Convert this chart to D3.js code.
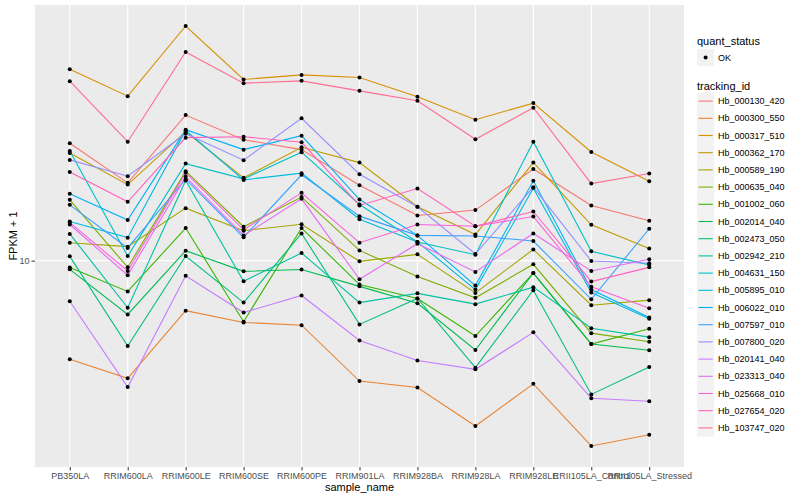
<!DOCTYPE html>
<html>
<head>
<meta charset="utf-8">
<style>
    body { margin: 0; background: #fff; }
    svg { display: block; font-family: "Liberation Sans", Arial, sans-serif; }
    .axis .tick text { fill: #4d4d4d; font-size: 9px; }
    .axis .tick line { stroke: #333; }
    .axis .domain { display: none; }
    .legend text { font-size: 9px; fill: #000; }
    .legend .title { font-size: 11px; }
</style>
</head>
<body>
<svg width="800" height="500"></svg>

<script src="https://d3js.org/d3.v7.min.js"></script>
<script>
    const samples = ["PB350LA", "RRIM600LA", "RRIM600LE", "RRIM600SE", "RRIM600PE", "RRIM901LA",
        "RRIM928BA", "RRIM928LA", "RRIM928LE", "RRII105LA_Control", "RRII105LA_Stressed"]

    // FPKM + 1 for each tracking id, one value per sample
    const Hb_000130_420 = [19.69, 15.67, 23.17, 20.10, 18.98, 15.46, 12.98, 13.39, 16.98, 13.75, 12.59]
    const Hb_000300_550 = [5.66, 5.07, 7.49, 7.00, 6.89, 4.99, 4.81, 3.85, 4.91, 3.43, 3.66]
    const Hb_000317_510 = [30.20, 25.85, 38.75, 28.46, 29.22, 28.79, 25.75, 22.56, 24.83, 18.73, 15.82]
    const Hb_000362_170 = [18.62, 15.51, 21.05, 16.13, 19.24, 17.61, 13.65, 11.63, 17.61, 12.30, 10.72]
    const Hb_000589_190 = [11.09, 10.84, 13.54, 11.89, 12.34, 9.96, 10.37, 8.30, 10.67, 7.73, 7.96]
    const Hb_000635_040 = [14.21, 9.62, 16.76, 12.16, 14.43, 10.61, 9.12, 8.07, 9.79, 6.58, 6.26]
    const Hb_001002_060 = [9.61, 8.37, 12.07, 7.03, 12.07, 8.71, 8.04, 6.47, 9.31, 6.18, 6.75]
    const Hb_002014_040 = [9.51, 7.33, 10.59, 9.40, 9.50, 8.62, 7.82, 5.97, 9.31, 6.18, 5.96]
    const Hb_002473_050 = [10.25, 6.11, 10.27, 7.85, 11.70, 6.92, 8.04, 5.39, 8.43, 4.62, 5.41]
    const Hb_002942_210 = [11.67, 7.62, 15.88, 8.88, 10.45, 7.85, 8.28, 7.78, 8.58, 6.77, 6.43]
    const Hb_004631_150 = [18.84, 10.27, 17.51, 16.03, 18.70, 13.83, 11.14, 10.35, 19.87, 10.55, 9.76]
    const Hb_005895_010 = [12.54, 11.42, 21.20, 15.94, 16.57, 12.70, 11.14, 8.46, 15.20, 8.32, 7.15]
    const Hb_006022_010 = [14.71, 12.64, 21.29, 18.98, 20.57, 14.23, 11.57, 8.66, 15.85, 8.46, 7.20]
    const Hb_007597_010 = [13.80, 10.76, 16.00, 11.44, 16.41, 12.93, 11.57, 11.53, 11.20, 8.00, 12.02]
    const Hb_007800_020 = [17.89, 16.28, 20.81, 17.86, 22.74, 16.47, 13.65, 10.39, 15.28, 9.98, 9.85]
    const Hb_020141_040 = [7.91, 4.82, 9.16, 7.41, 8.18, 6.31, 5.62, 5.34, 6.61, 4.52, 4.44]
    const Hb_023313_040 = [12.32, 9.19, 16.22, 11.57, 14.29, 8.98, 11.03, 9.37, 11.70, 9.42, 10.08]
    const Hb_025668_010 = [12.45, 9.42, 16.60, 11.95, 14.79, 11.09, 12.32, 12.20, 12.90, 8.60, 7.60]
    const Hb_027654_020 = [16.69, 14.04, 20.34, 20.45, 19.80, 13.75, 15.16, 12.20, 13.28, 8.86, 9.62]
    const Hb_103747_020 = [28.18, 19.87, 33.36, 27.86, 28.23, 26.65, 25.16, 20.15, 24.17, 15.60, 16.53]

    const trackingIds = ["Hb_000130_420", "Hb_000300_550", "Hb_000317_510", "Hb_000362_170", "Hb_000589_190",
        "Hb_000635_040", "Hb_001002_060", "Hb_002014_040", "Hb_002473_050", "Hb_002942_210",
        "Hb_004631_150", "Hb_005895_010", "Hb_006022_010", "Hb_007597_010", "Hb_007800_020",
        "Hb_020141_040", "Hb_023313_040", "Hb_025668_010", "Hb_027654_020", "Hb_103747_020"]

    const seriesValues = [Hb_000130_420, Hb_000300_550, Hb_000317_510, Hb_000362_170, Hb_000589_190,
        Hb_000635_040, Hb_001002_060, Hb_002014_040, Hb_002473_050, Hb_002942_210,
        Hb_004631_150, Hb_005895_010, Hb_006022_010, Hb_007597_010, Hb_007800_020,
        Hb_020141_040, Hb_023313_040, Hb_025668_010, Hb_027654_020, Hb_103747_020]

    const quantStatus = ["OK"]
    const yTicks = [10]

    // ggplot default hue palette, 20 levels
    const palette = ["#F8766D", "#EA8331", "#D89000", "#C09B00", "#A3A500", "#7CAE00", "#39B600", "#00BB4E",
        "#00BF7D", "#00C1A3", "#00BFC4", "#00BAE0", "#00B0F6", "#35A2FF", "#9590FF", "#C77CFF",
        "#E76BF3", "#FA62DB", "#FF62BC", "#FF6C91"]

    let series = trackingIds.map((id, i) => ({
        id: id,
        values: samples.map((s, j) => ({ sample: s, value: seriesValues[i][j] }))
    }))

    let panel = { left: 35, right: 684, top: 5, bottom: 467 }

    let svg = d3.select("svg")

    let color = d3.scaleOrdinal().domain(trackingIds).range(palette)

    let x = d3.scalePoint()
        .domain(samples)
        .range([panel.left, panel.right])
        .padding(0.6)

    // log scale with ggplot style 5% expansion
    let ext = d3.extent(seriesValues.flat())
    let lo = Math.log10(ext[0]), hi = Math.log10(ext[1])
    let pad = (hi - lo) * 0.05
    let y = d3.scaleLog()
        .domain([Math.pow(10, lo - pad), Math.pow(10, hi + pad)])
        .range([panel.bottom, panel.top])

    // panel background
    svg.append("rect")
        .attr("x", panel.left)
        .attr("y", panel.top)
        .attr("width", panel.right - panel.left)
        .attr("height", panel.bottom - panel.top)
        .attr("fill", "#ebebeb")

    // grid lines
    svg.append("g")
        .selectAll("line")
        .data(samples)
        .join("line")
        .attr("x1", d => x(d)).attr("x2", d => x(d))
        .attr("y1", panel.top).attr("y2", panel.bottom)
        .attr("stroke", "#fff")
        .attr("stroke-width", 1.2)

    svg.append("g")
        .selectAll("line")
        .data(yTicks)
        .join("line")
        .attr("x1", panel.left).attr("x2", panel.right)
        .attr("y1", d => y(d)).attr("y2", d => y(d))
        .attr("stroke", "#fff")
        .attr("stroke-width", 1.2)

    // axes
    svg.append("g")
        .attr("class", "x axis")
        .attr("transform", `translate(0, ${panel.bottom})`)
        .call(d3.axisBottom(x).tickSize(3.5).tickPadding(2))

    svg.append("g")
        .attr("class", "y axis")
        .attr("transform", `translate(${panel.left}, 0)`)
        .call(d3.axisLeft(y).tickValues(yTicks).tickFormat(d3.format("d")).tickSize(3.5).tickPadding(2))

    svg.append("text")
        .attr("x", (panel.left + panel.right) / 2)
        .attr("y", 491)
        .attr("text-anchor", "middle")
        .style("font-size", "11px")
        .text("sample_name")

    svg.append("text")
        .attr("transform", `translate(17, ${(panel.top + panel.bottom) / 2}) rotate(-90)`)
        .attr("text-anchor", "middle")
        .style("font-size", "11px")
        .text("FPKM + 1")

    // lines
    let line = d3.line()
        .x(d => x(d.sample))
        .y(d => y(d.value))

    svg.append("g")
        .selectAll("path")
        .data(series)
        .join("path")
        .attr("fill", "none")
        .attr("stroke", d => color(d.id))
        .attr("stroke-width", 1.1)
        .attr("d", d => line(d.values))

    // points
    svg.append("g")
        .selectAll("circle")
        .data(series.flatMap(s => s.values))
        .join("circle")
        .attr("cx", d => x(d.sample))
        .attr("cy", d => y(d.value))
        .attr("r", 2)
        .attr("fill", "#000")

    // legends
    let legend = svg.append("g").attr("class", "legend")
    let keySize = 17.2

    legend.append("text").attr("class", "title")
        .attr("x", 697).attr("y", 45)
        .text("quant_status")

    let qs = legend.append("g")
        .selectAll("g")
        .data(quantStatus)
        .join("g")
        .attr("transform", (d, i) => `translate(697, ${49 + i * keySize})`)
    qs.append("rect").attr("width", keySize).attr("height", keySize).attr("fill", "#f2f2f2")
    qs.append("circle").attr("cx", keySize / 2).attr("cy", keySize / 2).attr("r", 2).attr("fill", "#000")
    qs.append("text").attr("x", 21).attr("y", keySize / 2).attr("dy", "0.35em").text(d => d)

    legend.append("text").attr("class", "title")
        .attr("x", 697).attr("y", 90)
        .text("tracking_id")

    let keys = legend.append("g")
        .selectAll("g")
        .data(trackingIds)
        .join("g")
        .attr("transform", (d, i) => `translate(697, ${92.5 + i * keySize})`)
    keys.append("rect").attr("width", keySize).attr("height", keySize).attr("fill", "#f2f2f2")
    keys.append("line")
        .attr("x1", 1.5).attr("x2", keySize - 1.5)
        .attr("y1", keySize / 2).attr("y2", keySize / 2)
        .attr("stroke", d => color(d))
        .attr("stroke-width", 1.1)
    keys.append("text").attr("x", 21).attr("y", keySize / 2).attr("dy", "0.35em").text(d => d)
</script>
</body>
</html>
